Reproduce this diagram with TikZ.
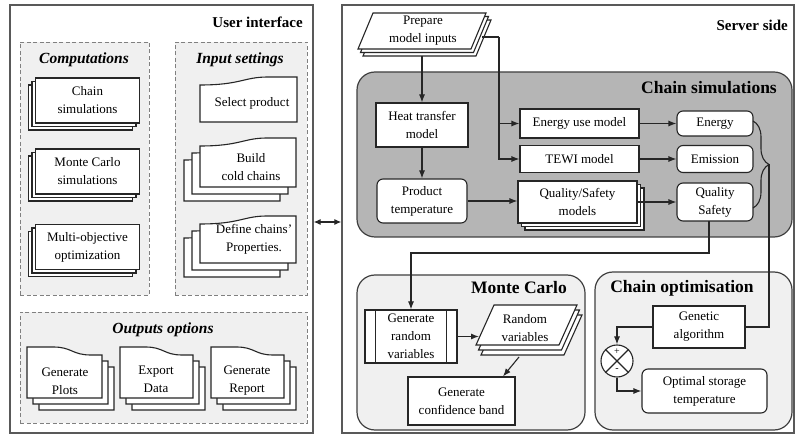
\documentclass[tikz,border=0pt]{standalone}
\usepackage{fontspec}
\setmainfont{Liberation Serif}
\usetikzlibrary{arrows.meta,shadows,decorations.pathreplacing}
\newcommand\docup[4]{%
  \draw[docln] (#1,#4) -- (#1,{#2+8}) .. controls ({#1+0.42*(#3-#1)},{#2+8}) and ({#1+0.45*(#3-#1)},#2) .. ({#1+0.7*(#3-#1)},#2) -- (#3,#2) -- (#3,#4) -- cycle;}
\newcommand\docdown[4]{%
  \draw[docln] (#1,#4) -- (#1,#2) -- ({#1+0.35*(#3-#1)},#2) .. controls ({#1+0.6*(#3-#1)},#2) and ({#1+0.6*(#3-#1)},{#2+8}) .. ({#1+0.85*(#3-#1)},{#2+8}) -- (#3,{#2+8}) -- (#3,#4) -- cycle;}
\begin{document}
\begin{tikzpicture}[x=1pt,y=-1pt,
  font=\fontsize{13}{18}\selectfont,
  ln/.style={draw=black!85, line width=1.1pt},
  docln/.style={ln, fill=white},
  arr/.style={ln, -{Latex[length=8pt,width=6pt]}},
  sz/.style 2 args={minimum width=#1pt, minimum height=#2pt},
  box/.style={ln, fill=white, align=center, inner sep=0pt},
  rbox/.style={box, rounded corners=6pt},
  txt/.style={align=center, inner sep=0pt},
  panel/.style={draw=black!65, line width=1.4pt, fill=white, inner sep=0pt},
  grp/.style={draw=black!50, line width=0.9pt, dash pattern=on 4pt off 2.5pt, fill=black!6, inner sep=0pt},
  region/.style={draw=black!75, line width=1.2pt, rounded corners=18pt, inner sep=0pt},
  ttl/.style={font=\fontsize{17.5}{20}\selectfont\bfseries, inner sep=0pt},
  ptl/.style={font=\fontsize{15}{18}\selectfont\bfseries, inner sep=0pt},
  gtl/.style={font=\fontsize{15.5}{18}\selectfont\bfseries\itshape, inner sep=0pt},
  stackL/.style={double copy shadow={shadow xshift=-3.5pt, shadow yshift=-3.5pt, draw=black!85, fill=white, line width=1.1pt}},
  stackR/.style={double copy shadow={shadow xshift=3.5pt, shadow yshift=-3.5pt, draw=black!85, fill=white, line width=1.1pt}}
]
\useasboundingbox (0,0) rectangle (795,435);
\fill[white] (0,0) rectangle (795,435);

% panels
\node[panel, sz={303}{428}] (ui) at (161.5,219) {};
\node[panel, sz={452}{428}] (ss) at (568,219) {};
\node[ptl, anchor=east] (tui) at (303,22) {User interface};
\node[ptl, anchor=east] (tss) at (788,25) {Server side};

% groups on the left
\node[grp, sz={129}{253}] (gcomp) at (84.5,168.5) {};
\node[grp, sz={132}{253}] (ginp) at (241,168.5) {};
\node[grp, sz={287}{111}] (gout) at (163.5,367.5) {};
\node[gtl] (tcomp) at (84,60) {Computations};
\node[gtl] (tinp) at (240,60) {Input settings};
\node[gtl] (tout) at (163,330) {Outputs options};

% computations
\node[box, stackL, sz={104}{45}] (cs) at (87.5,100.5) {Chain\\simulations};
\node[box, stackL, sz={104}{45}] (mcs) at (87.5,171.5) {Monte Carlo\\simulations};
\node[box, stackL, sz={104}{45}] (moo) at (87.5,247) {Multi-objective\\optimization};

% input settings
\docup{200}{77}{297}{122}
\node[txt] (sel) at (252,103) {Select product};
\docup{184}{152}{280}{201}
\docup{192}{145}{288}{194}
\docup{200}{138}{296}{187}
\node[txt] (bcc) at (251,167) {Build\\cold chains};
\docup{184}{230}{280}{277}
\docup{192}{223}{288}{270}
\docup{200}{216}{296}{263}
\node[txt] (dcp) at (254,239) {Define chains’\\Properties.};

% outputs
\docdown{39}{359}{114}{410}
\docdown{33}{353}{108}{404}
\docdown{27}{347}{102}{398}
\node[txt] (gp) at (65,381) {Generate\\Plots};
\docdown{132}{359}{205}{410}
\docdown{126}{353}{199}{404}
\docdown{120}{347}{193}{398}
\node[txt] (ed) at (156,379) {Export\\Data};
\docdown{223}{359}{296}{410}
\docdown{217}{353}{290}{404}
\docdown{211}{347}{284}{398}
\node[txt] (gr) at (247,381) {Generate\\Report};

% link between panels
\draw[ln, {Latex[length=7pt,width=6pt]}-{Latex[length=7pt,width=6pt]}] ([yshift=-3pt]ui.east) -- ([yshift=-3pt]ss.west);

% server regions
\node[region, fill=black!29, sz={435}{165}] (csim) at (574.5,154.5) {};
\node[region, fill=black!6, sz={228}{155}] (mc) at (471,352.5) {};
\node[region, fill=black!6, sz={197}{158}] (copt) at (693.5,351) {};
\node[ttl, anchor=east] (tcsim) at (777,88) {Chain simulations};
\node[ttl, anchor=east] (tmc) at (567,288) {Monte Carlo};
\node[ttl] (tcopt) at (682,288) {Chain optimisation};

% prepare model inputs
\foreach \d in {2,1,0}
  \draw[docln] ({373+2.5*\d},{13+3.5*\d}) -- ++(113,0) -- ++(-15,36) -- ++(-113,0) -- cycle;
\node[txt] (prep) at (423,31) {Prepare\\model inputs};
\coordinate (prepb) at (422,56);
\coordinate (prepr) at (482,37);
\coordinate (bus) at (499,37);

% chain simulation nodes
\node[box, sz={92}{44}] (heat) at (422,125) {Heat transfer\\model};
\node[rbox, sz={90}{44}] (prod) at (422,201) {Product\\temperature};
\node[box, sz={119}{29}] (euse) at (579.5,123.5) {Energy use model};
\node[box, sz={119}{27}] (tewi) at (579.5,159) {TEWI model};
\node[box, stackR, sz={119}{42}] (qsm) at (577.5,202) {Quality/Safety\\models};
\node[rbox, sz={76}{25}] (energy) at (715,123.5) {Energy};
\node[rbox, sz={76}{27}] (emis) at (715,159) {Emission};
\node[rbox, sz={76}{38}] (qs) at (715,202) {Quality\\Safety};

\draw[arr] (prepb) -- (heat.north);
\draw[arr] (heat.south) -- (prod.north);
\draw[ln] (prepr) -- (bus);
\draw[arr] (bus) |- (tewi.west);
\draw[arr] (bus |- euse.west) -- (euse.west);
\draw[arr] (euse.east) -- (energy.west);
\draw[arr] (tewi.east) -- (emis.west);
\draw[arr] (prod.east) -- (prod.east -| qsm.west);
\draw[arr] (qsm.east) -- (qs.west);

\coordinate (br1) at (753,121);
\coordinate (br2) at (753,208);
\coordinate (tip) at (769,164.5);
\draw[ln, decorate, decoration={brace, amplitude=16pt}] (br1) -- (br2);

% Monte Carlo nodes
\node[box, sz={92}{53}] (grv) at (411,336.5) {Generate\\random\\variables};
\draw[ln] ([xshift=11pt]grv.north west) -- ([xshift=11pt]grv.south west);
\draw[ln] ([xshift=-11pt]grv.north east) -- ([xshift=-11pt]grv.south east);
\foreach \d in {2,1,0}
  \draw[docln] ({494+2.5*\d},{305+5*\d}) -- ++(83,0) -- ++(-18,40) -- ++(-83,0) -- cycle;
\node[txt] (rv) at (525,328) {Random\\variables};
\coordinate (rvin) at (479,336.5);
\coordinate (rvout) at (519,357);
\node[box, sz={107}{48}] (gcb) at (461.5,401) {Generate\\confidence band};

\coordinate (qsb) at (709,221);
\coordinate (mcturn) at (709,253);
\draw[arr] (qsb) -- (mcturn) -| (grv.north);
\draw[arr] (grv.east) -- (rvin);
\draw[arr] (rvout) -- ([xshift=41.5pt]gcb.north);

% optimisation nodes
\node[box, sz={92}{42}] (ga) at (699,327) {Genetic\\algorithm};
\node[ln, circle, fill=white, minimum size=32pt, inner sep=0pt] (sum) at (617,361) {};
\draw[ln] (sum.north east) -- (sum.south west) (sum.north west) -- (sum.south east);
\node[inner sep=0pt, font=\fontsize{10}{10}\selectfont] (plus) at (617,351.5) {+};
\node[inner sep=0pt, font=\fontsize{10}{10}\selectfont] (minus) at (617,370.5) {-};
\node[rbox, sz={125}{44}] (ost) at (704.5,391) {Optimal storage\\temperature};

\draw[ln] (tip) |- (ga.east);
\draw[arr] (ga.west) -| (sum.north);
\draw[arr] (sum.south) |- (ost.west);
\end{tikzpicture}
\end{document}
